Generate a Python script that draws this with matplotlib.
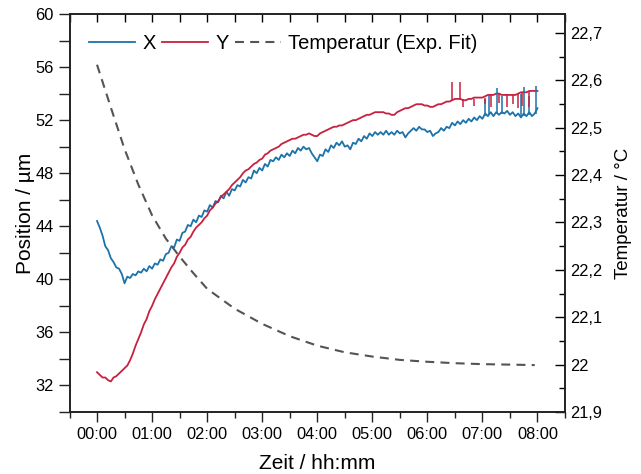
"""Position X/Y und Temperatur über Zeit."""
import matplotlib
matplotlib.use("Agg")
import matplotlib.pyplot as plt
from matplotlib.ticker import MultipleLocator, FuncFormatter

plt.rcParams["font.family"] = ["Liberation Sans", "DejaVu Sans"]

# Messzeitpunkte in Stunden (alle 3 min)
zeit = [i / 20 for i in range(161)]

pos_x = [44.4, 43.9, 43.3, 42.5, 42.2, 41.6, 41.3, 40.9, 40.8, 40.4,
         39.7, 40.2, 40.1, 40.4, 40.3, 40.6, 40.5, 40.8, 40.6, 41.0,
         40.8, 41.2, 41.1, 41.5, 41.4, 41.9, 42.0, 42.5, 42.4, 43.0,
         42.9, 43.5, 43.6, 44.1, 44.0, 44.5, 44.3, 44.8, 44.7, 45.2,
         45.1, 45.6, 45.4, 45.9, 45.8, 46.3, 46.1, 46.6, 46.3, 46.8,
         46.7, 47.1, 47.0, 47.5, 47.3, 47.7, 47.6, 48.2, 48.0, 48.4,
         48.2, 48.7, 48.5, 49.0, 48.9, 49.2, 49.0, 49.4, 49.2, 49.5,
         49.3, 49.7, 49.5, 49.9, 49.7, 50.0, 49.8, 49.9, 49.5, 49.2,
         48.9, 49.4, 49.3, 49.8, 49.6, 50.1, 49.9, 50.3, 50.1, 50.4,
         50.0, 50.1, 49.8, 50.3, 50.2, 50.6, 50.4, 50.8, 50.6, 51.0,
         50.8, 51.1, 50.9, 51.1, 50.9, 51.2, 50.9, 51.1, 50.9, 51.2,
         51.0, 51.1, 50.7, 51.0, 51.2, 51.4, 51.2, 51.5, 51.3, 51.3,
         51.1, 51.2, 50.8, 51.0, 51.1, 51.4, 51.2, 51.5, 51.4, 51.8,
         51.6, 51.9, 51.7, 52.0, 51.8, 52.1, 51.9, 52.2, 52.0, 52.3,
         52.1, 52.5, 52.3, 52.6, 52.3, 52.6, 52.4, 52.6, 52.5, 52.7,
         52.4, 52.6, 52.3, 52.5, 52.2, 52.5, 52.3, 52.6, 52.3, 52.5,
         52.9]

pos_y = [33.0, 32.8, 32.6, 32.6, 32.4, 32.3, 32.6, 32.7, 32.9, 33.1,
         33.3, 33.5, 33.9, 34.4, 35.0, 35.5, 36.0, 36.6, 37.0, 37.6,
         38.0, 38.5, 38.9, 39.3, 39.7, 40.1, 40.5, 40.9, 41.2, 41.7,
         42.0, 42.4, 42.6, 43.0, 43.2, 43.6, 43.9, 44.1, 44.3, 44.6,
         44.8, 45.2, 45.4, 45.7, 45.9, 46.2, 46.4, 46.6, 46.8, 47.1,
         47.3, 47.5, 47.7, 48.0, 48.2, 48.3, 48.5, 48.7, 48.8, 49.0,
         49.1, 49.4, 49.5, 49.7, 49.8, 49.9, 50.0, 50.2, 50.3, 50.4,
         50.5, 50.6, 50.6, 50.7, 50.8, 50.9, 50.9, 51.0, 50.9, 50.8,
         50.8, 51.0, 51.1, 51.2, 51.3, 51.4, 51.5, 51.5, 51.6, 51.6,
         51.7, 51.8, 51.9, 52.0, 52.0, 52.1, 52.2, 52.3, 52.4, 52.4,
         52.5, 52.6, 52.6, 52.6, 52.6, 52.5, 52.5, 52.4, 52.4, 52.6,
         52.7, 52.8, 52.9, 52.9, 53.0, 53.1, 53.2, 53.2, 53.2, 53.1,
         53.1, 53.0, 53.0, 53.1, 53.2, 53.2, 53.3, 53.4, 53.4, 53.5,
         53.6, 53.6, 53.6, 53.5, 53.5, 53.6, 53.6, 53.7, 53.7, 53.7,
         53.7, 53.8, 53.9, 53.9, 53.9, 54.0, 54.0, 53.9, 53.9, 53.9,
         53.9, 53.9, 53.9, 54.0, 54.1, 54.1, 54.1, 54.2, 54.2, 54.2,
         54.2]

# Ausreißer (Zeit, Grundwert, Spitze)
spike_x_t = [7.05, 7.12, 7.27, 7.35, 7.70, 7.76, 7.85, 7.97]
spike_x_lo = [52.3, 52.5, 52.5, 52.5, 52.3, 52.3, 52.4, 52.5]
spike_x_hi = [53.6, 53.9, 54.4, 53.8, 54.0, 54.5, 53.8, 54.6]

spike_y_t = [6.45, 6.60, 6.64, 6.85, 7.05, 7.15, 7.30, 7.45, 7.55, 7.65, 7.72, 7.85]
spike_y_lo = [53.5, 53.5, 53.0, 53.1, 53.2, 53.0, 53.3, 53.0, 53.2, 52.9, 53.1, 53.0]
spike_y_hi = [54.9, 54.9, 53.6, 53.6, 53.7, 53.9, 54.0, 53.9, 53.9, 54.0, 54.1, 54.1]

# Exponentieller Fit der Temperatur
temp_t = [0.0, 0.25, 0.5, 0.75, 1.0, 1.25, 1.5, 1.75, 2.0, 2.5, 3.0,
          3.5, 4.0, 4.5, 5.0, 5.5, 6.0, 6.5, 7.0, 7.5, 7.95]
temp = [22.633, 22.543, 22.455, 22.380, 22.315, 22.266, 22.228, 22.193,
        22.160, 22.118, 22.086, 22.060, 22.040, 22.026, 22.017, 22.010,
        22.006, 22.003, 22.001, 22.000, 21.999]

hh_mm = ["00:00", "01:00", "02:00", "03:00", "04:00",
         "05:00", "06:00", "07:00", "08:00"]

c_x = "#1c72aa"
c_y = "#c8203f"
c_t = "#545454"

fig = plt.figure(figsize=(6.41, 4.74), dpi=100)
ax = fig.add_axes([69.5 / 641, 1 - 412 / 474, 495.5 / 641, 398 / 474])
ax2 = ax.twinx()

lx, = ax.plot(zeit, pos_x, color=c_x, lw=1.3, label="X")
ly, = ax.plot(zeit, pos_y, color=c_y, lw=1.3, label="Y")
ax.vlines(spike_x_t, spike_x_lo, spike_x_hi, color=c_x, lw=1.1)
ax.vlines(spike_y_t, spike_y_lo, spike_y_hi, color=c_y, lw=1.1)
lt, = ax2.plot(temp_t, temp, color=c_t, lw=1.5, ls=(0, (4.3, 3)),
               label="Temperatur (Exp. Fit)")

ax.set_xlim(-0.5, 8.5)
ax.set_ylim(30, 60)
ax2.set_ylim(21.9, 22.74)

ax.set_xticks(range(len(hh_mm)))
ax.set_xticklabels(hh_mm)
ax.xaxis.set_minor_locator(MultipleLocator(0.5))
ax.yaxis.set_major_locator(MultipleLocator(4))
ax.yaxis.set_minor_locator(MultipleLocator(2))
ax2.yaxis.set_major_locator(MultipleLocator(0.1))
ax2.yaxis.set_minor_locator(MultipleLocator(0.05))
ax2.yaxis.set_major_formatter(FuncFormatter(
    lambda v, p: f"{v:.1f}".rstrip("0").rstrip(".").replace(".", ",")))

ax.tick_params(axis="both", which="both", labelsize=11.8, width=1, color="#222")
ax.tick_params(axis="x", which="major", direction="out", length=7)
ax.tick_params(axis="x", which="minor", direction="out", length=4)
ax.tick_params(axis="y", which="both", direction="out", length=8)
ax2.tick_params(axis="y", which="major", direction="in", length=7, labelsize=11.8, width=1)
ax2.tick_params(axis="y", which="minor", direction="in", length=4, width=1)

# obere Ticks nach innen
sec = ax.secondary_xaxis("top")
sec.set_xticks(range(len(hh_mm)))
sec.xaxis.set_minor_locator(MultipleLocator(0.5))
sec.tick_params(axis="x", which="both", direction="in", length=6, labeltop=False, width=1)
sec.spines["top"].set_visible(False)

for a in (ax, ax2):
    for sp in a.spines.values():
        sp.set_linewidth(1.2)
        sp.set_color("#222")

ax.set_xlabel("Zeit / hh:mm", fontsize=15, labelpad=9)
ax.set_ylabel("Position / µm", fontsize=15, labelpad=0)
ax2.set_ylabel("Temperatur / °C", fontsize=13.5, labelpad=9)

ax2.legend(handles=[lx, ly, lt], loc="upper left", bbox_to_anchor=(0.023, 0.97),
           ncol=3, frameon=False, fontsize=14.5, handlelength=2.3,
           handletextpad=0.35, columnspacing=0.3, borderaxespad=0.0)

fig.savefig("out.png", dpi=100)
